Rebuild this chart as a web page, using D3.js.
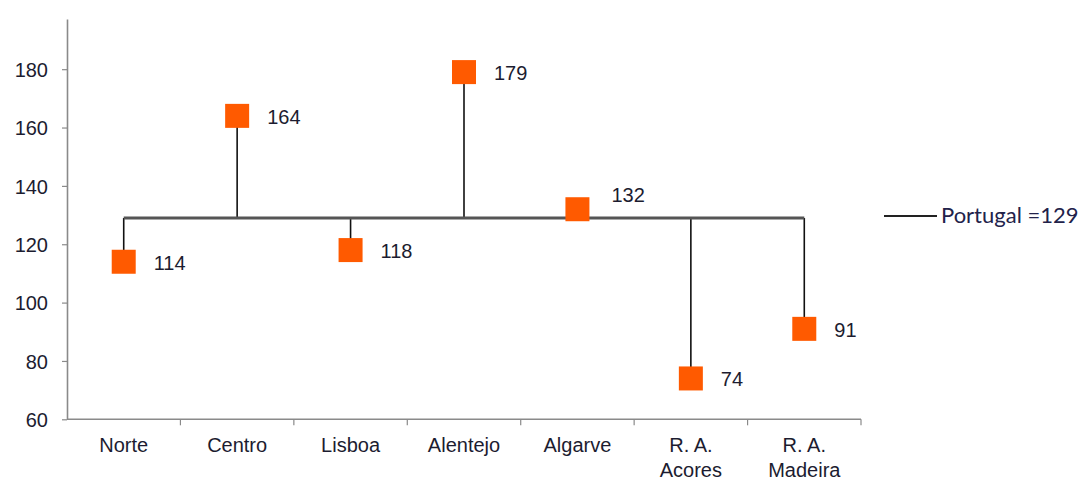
<!DOCTYPE html>
<html><head><meta charset="utf-8">
<script src="https://cdn.jsdelivr.net/npm/d3@7"></script>
<style>body{margin:0;background:#fff}svg{display:block}</style>
</head><body>
<svg id="c" width="1085" height="481"></svg>
<script>
const categories = [["Norte"],["Centro"],["Lisboa"],["Alentejo"],["Algarve"],["R. A.","Acores"],["R. A.","Madeira"]];
const values = [114,164,118,179,132,74,91];
const portugal = 129;
const yTicks = [60,80,100,120,140,160,180];
const legendLabel = "Portugal =129";

const svg = d3.select("#c");
const x0 = 67, x1 = 861, yTop = 19, yBot = 419.3;
const x = d3.scaleBand().domain(d3.range(categories.length)).range([x0, x1]);
const y = d3.scaleLinear().domain([60, 197.2]).range([yBot, yTop]);
const axisColor = "#8a8a8a";
const font = "'Liberation Sans', Arial, sans-serif";
const textColor = "#1c1c30";

// y axis
const ya = svg.append("g").attr("transform", `translate(${x0},0)`)
  .call(d3.axisLeft(y).tickValues(yTicks).tickSize(5).tickPadding(14).tickSizeOuter(0));
ya.select(".domain").attr("stroke", axisColor).attr("stroke-width", 1.6);
ya.selectAll(".tick line").attr("stroke", axisColor).attr("stroke-width", 1.2);
ya.selectAll(".tick text").attr("font-family", font).attr("font-size", 20).attr("fill", textColor).attr("dy", "0.36em");

// x axis
const xa = svg.append("g").attr("transform", `translate(0,${yBot})`);
xa.append("line").attr("x1", x0).attr("x2", x1).attr("stroke", axisColor).attr("stroke-width", 1.6);
xa.selectAll("line.t").data(d3.range(categories.length)).join("line").attr("class","t")
  .attr("x1", i => x(i) + x.bandwidth()).attr("x2", i => x(i) + x.bandwidth())
  .attr("y1", 0).attr("y2", 6).attr("stroke", axisColor).attr("stroke-width", 1.2);
const xl = xa.selectAll("text").data(categories).join("text")
  .attr("text-anchor", "middle").attr("font-family", font).attr("font-size", 20).attr("fill", textColor)
  .attr("transform", (d, i) => `translate(${x(i) + x.bandwidth()/2},0)`);
xl.selectAll("tspan").data(d => d).join("tspan").attr("x", 0).attr("y", (d, j) => 33 + j * 25).text(d => d);

const cx = i => x(i) + x.bandwidth()/2;

// stems
svg.selectAll("line.stem").data(values).join("line").attr("class","stem")
  .attr("x1", (d,i) => cx(i)).attr("x2", (d,i) => cx(i))
  .attr("y1", y(portugal)).attr("y2", d => y(d))
  .attr("stroke", "#111").attr("stroke-width", 1.6);

// mean line
svg.append("line").attr("x1", cx(0)).attr("x2", cx(values.length-1))
  .attr("y1", y(portugal)).attr("y2", y(portugal))
  .attr("stroke", "#555").attr("stroke-width", 3);

// markers
const sz = 24;
svg.selectAll("rect.m").data(values).join("rect").attr("class","m")
  .attr("x", (d,i) => cx(i) - sz/2).attr("y", d => y(d) - sz/2)
  .attr("width", sz).attr("height", sz).attr("fill", "#ff5a00");

// value labels
svg.selectAll("text.v").data(values).join("text").attr("class","v")
  .attr("x", (d,i) => cx(i) + (Math.abs(d - portugal) < 8 ? 34 : 30))
  .attr("y", d => Math.abs(d - portugal) < 8 ? y(d) - 7 : y(d) + 8)
  .attr("font-family", font).attr("font-size", 20).attr("fill", textColor)
  .text(d => d);

// legend
svg.append("line").attr("x1", 884).attr("x2", 937).attr("y1", 216).attr("y2", 216)
  .attr("stroke", "#222").attr("stroke-width", 1.8);
svg.append("text").attr("x", 941).attr("y", 223)
  .attr("font-family", "Lato, 'Open Sans', sans-serif").attr("font-size", 22).attr("fill", "#22224a")
  .text(legendLabel);
</script>
</body></html>
